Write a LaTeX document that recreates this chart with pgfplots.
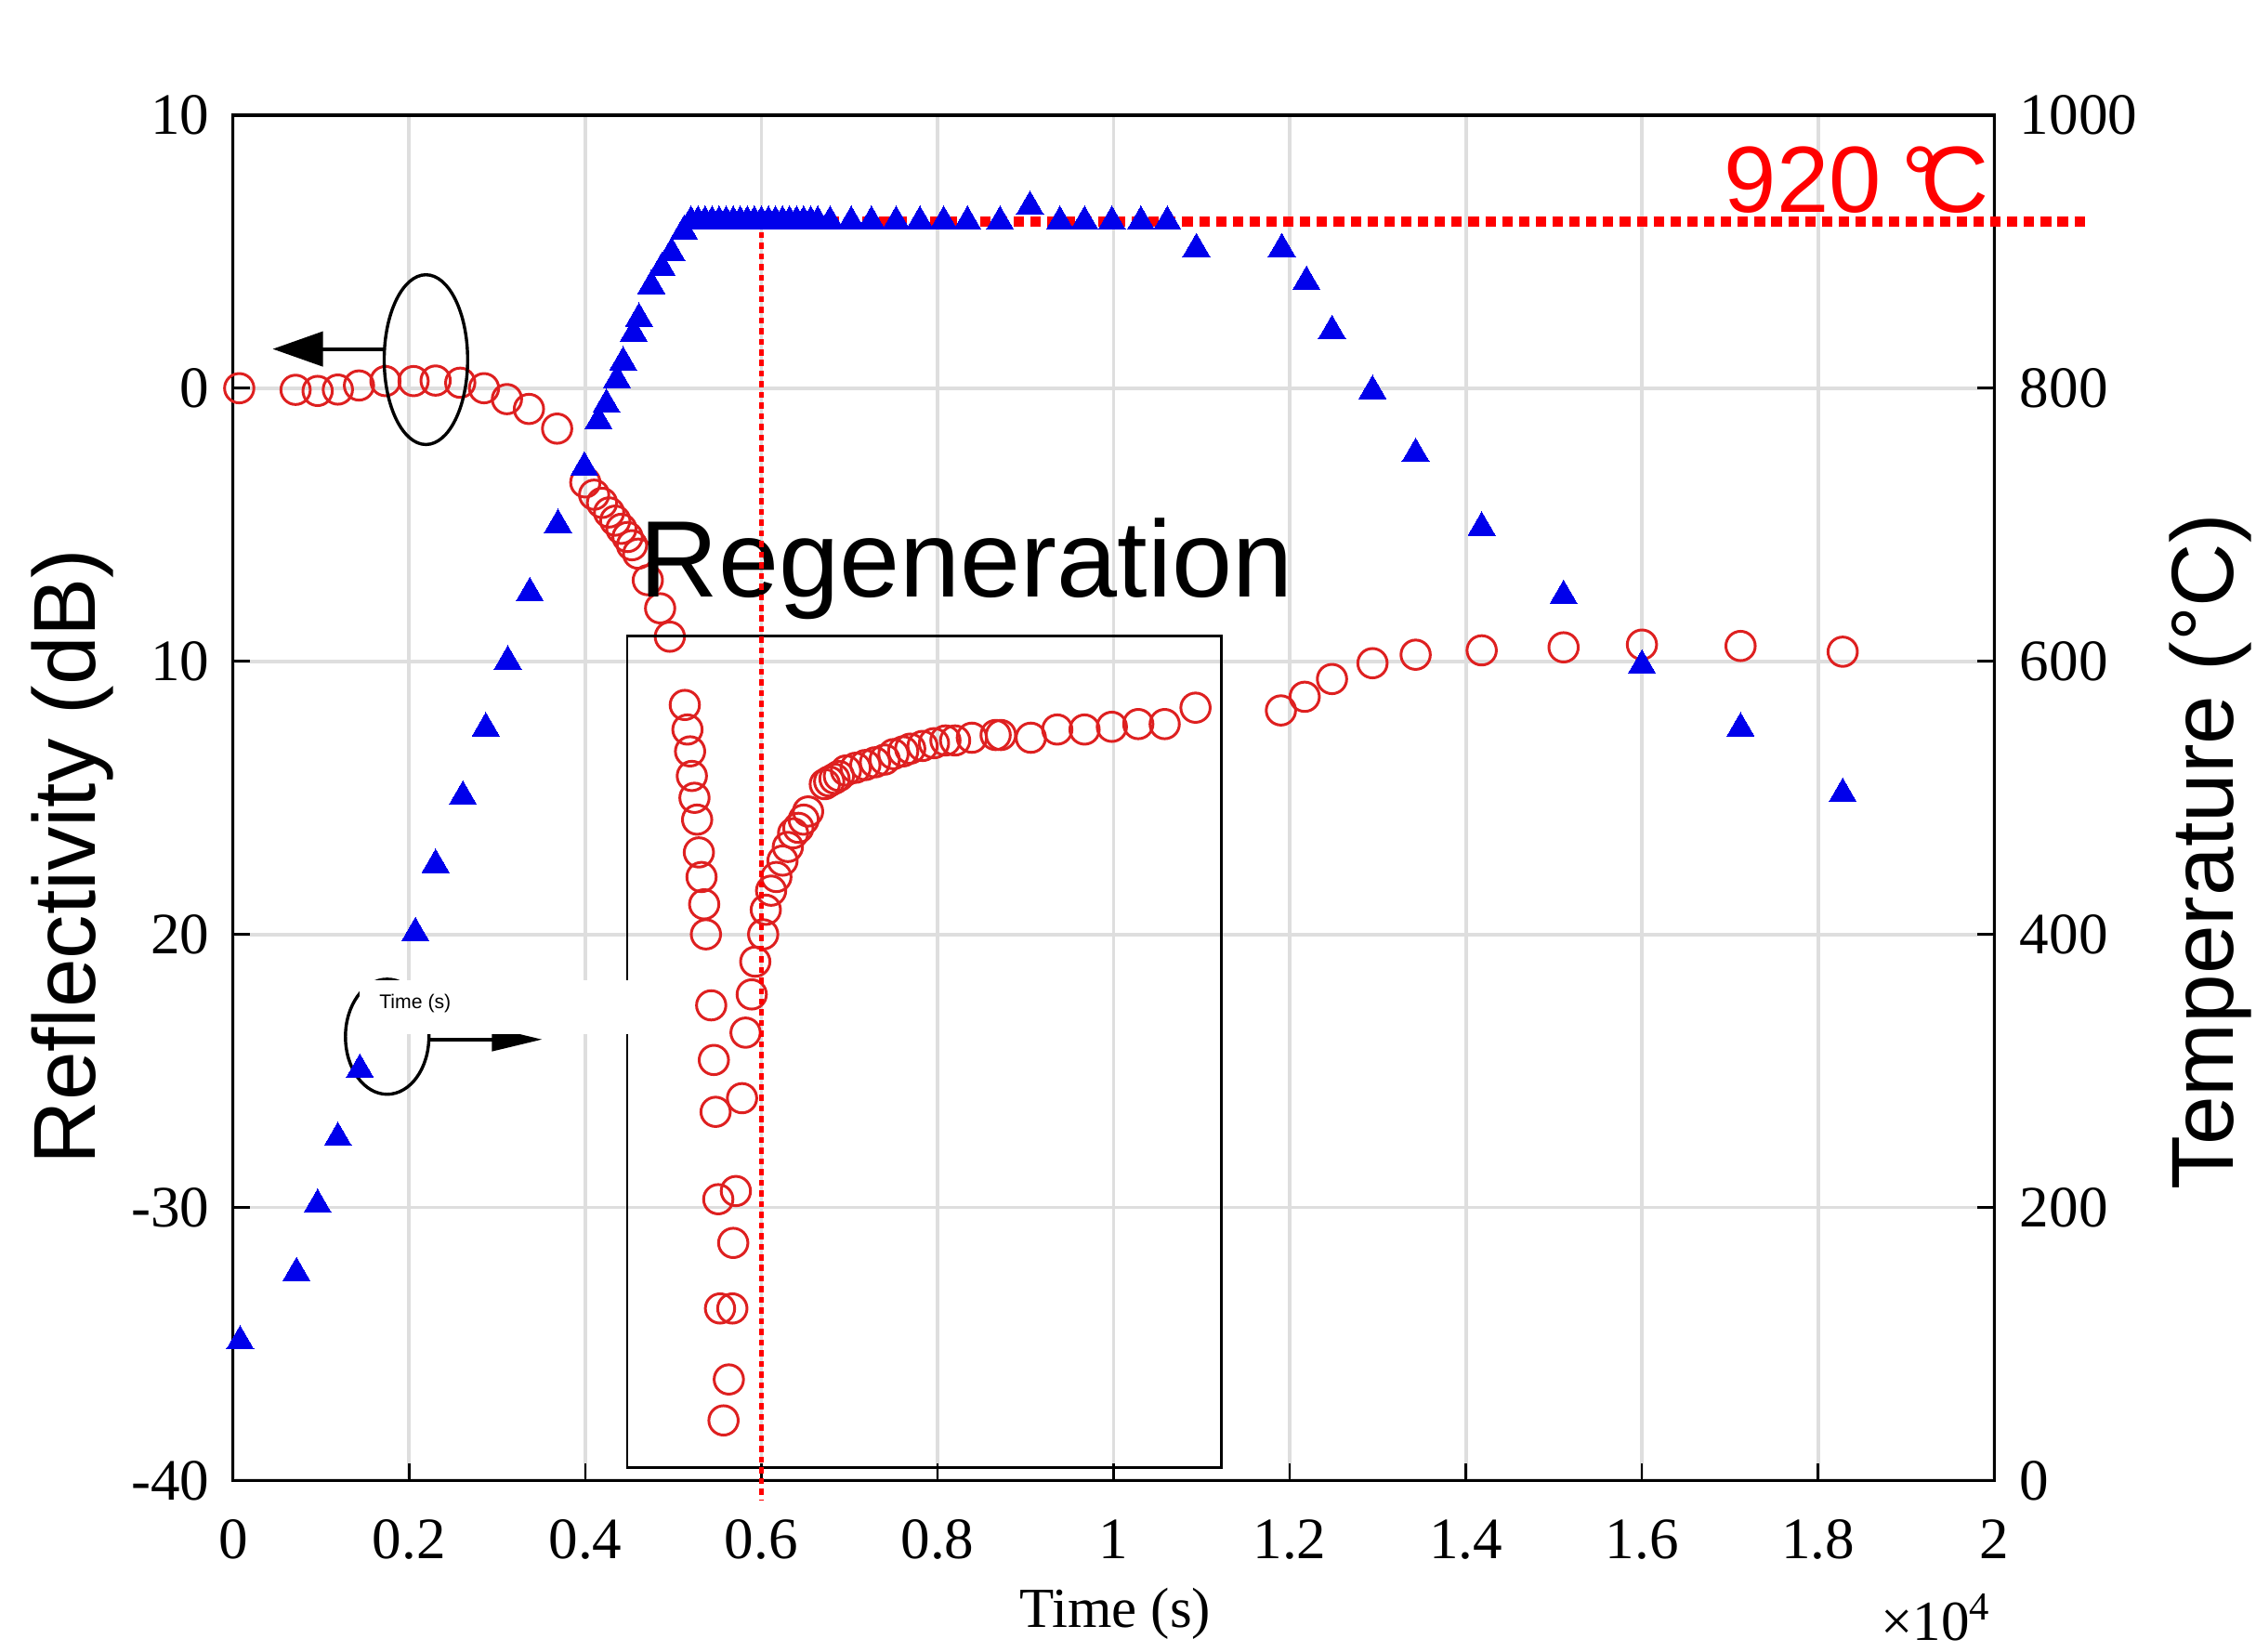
\documentclass[border=0pt]{standalone}
\usepackage{fontspec}
\setmainfont{Liberation Serif}
\newfontfamily\arial{Liberation Sans}
\usepackage{pgfplots}
\pgfplotsset{compat=1.18}
\usetikzlibrary{arrows.meta}

\definecolor{circred}{RGB}{222,32,32}
\definecolor{triblue}{RGB}{0,0,235}
\definecolor{gridgray}{RGB}{222,222,222}

\pgfplotsset{
  common/.style={
    scale only axis, width=122.4mm, height=94.9mm,
    at={(0,0)}, anchor=south west,
    xmin=0, xmax=2, clip=false,
    tick align=inside, major tick length=1.2mm,
    tick style={black, line width=0.5pt},
    ticklabel style={font=\fontsize{11.6}{13}\selectfont},
  },
}

\begin{document}
\begin{tikzpicture}
\useasboundingbox (-16.2mm,-11.9mm) rectangle (140.6mm,102.9mm);

% reflectivity, left axis
\begin{axis}[common,
  ymin=-40, ymax=10,
  xtick={0,0.2,0.4,0.6,0.8,1,1.2,1.4,1.6,1.8,2},
  xticklabels={0,0.2,0.4,0.6,0.8,1,1.2,1.4,1.6,1.8,2},
  ytick={-40,-30,-20,-10,0,10},
  yticklabels={-40,-30,20,10,0,10},
  xtick pos=bottom, ytick pos=left,
  xticklabel style={yshift=-1.5mm},
  yticklabel style={xshift=-0.4mm},
  grid=major, major grid style={gridgray, line width=0.25mm},
  axis line style={line width=0.6pt},
]
\addplot[only marks, mark=o, mark size=2.9pt,
  mark options={draw=circred, line width=0.55pt}] coordinates {
(0.007,0) (0.071,-0.06) (0.096,-0.1) (0.119,-0.05) (0.143,0.1) (0.173,0.26)
(0.205,0.26) (0.230,0.28) (0.258,0.2) (0.285,0) (0.311,-0.4) (0.336,-0.76)
(0.368,-1.48) (0.400,-3.45) (0.410,-3.9) (0.419,-4.2) (0.427,-4.55) (0.434,-4.85)
(0.441,-5.15) (0.448,-5.45) (0.453,-5.75) (0.460,-6.06) (0.471,-7.03) (0.485,-8.06)
(0.496,-9.1) (0.513,-11.6) (0.516,-12.5) (0.519,-13.3) (0.521,-14.2) (0.524,-15.0)
(0.527,-15.8) (0.529,-17.0) (0.532,-17.9) (0.535,-18.9) (0.537,-20.0) (0.543,-22.6)
(0.546,-24.6) (0.548,-26.5) (0.551,-29.7) (0.553,-33.7) (0.557,-37.8) (0.563,-36.3)
(0.567,-33.7) (0.568,-31.3) (0.571,-29.4) (0.578,-26.0) (0.582,-23.6) (0.589,-22.2)
(0.593,-21.0) (0.602,-20.0) (0.605,-19.1) (0.611,-18.4) (0.617,-17.9) (0.624,-17.3)
(0.630,-16.8) (0.636,-16.3) (0.642,-16.1) (0.648,-15.8) (0.653,-15.5) (0.672,-14.5)
(0.677,-14.4) (0.683,-14.3) (0.688,-14.2) (0.696,-14.0) (0.707,-13.9) (0.718,-13.8)
(0.729,-13.7) (0.740,-13.6) (0.750,-13.4) (0.761,-13.3) (0.769,-13.2) (0.783,-13.1)
(0.796,-13.0) (0.809,-12.9) (0.820,-12.9) (0.839,-12.8) (0.866,-12.7) (0.872,-12.7)
(0.906,-12.8) (0.936,-12.5) (0.967,-12.5) (0.998,-12.4) (1.028,-12.3) (1.058,-12.3)
(1.093,-11.7) (1.190,-11.8) (1.217,-11.3) (1.248,-10.65) (1.294,-10.07) (1.343,-9.76)
(1.418,-9.6) (1.511,-9.49) (1.600,-9.39) (1.712,-9.44) (1.828,-9.65)
};
\node[rotate=90, anchor=base, font=\fontsize{17.4}{20}\arial]
  at (rel axis cs:-0.0784,0.457) {Reflectivity (dB)};
\node[rotate=90, anchor=base, font=\fontsize{17.4}{20}\arial]
  at (rel axis cs:1.1356,0.4605) {Temperature (°C)};
\node[anchor=base, font=\fontsize{11.2}{13}\selectfont]
  at (rel axis cs:0.5008,-0.1075) {Time (s)};
\node[anchor=base east, inner sep=0pt, font=\fontsize{11.2}{13}\selectfont]
  at (rel axis cs:0.9992,-0.117) {×10\textsuperscript{4}};
\end{axis}

% temperature, right axis
\begin{axis}[common,
  ymin=0, ymax=1000,
  axis x line=none, axis y line*=right,
  ytick={0,200,400,600,800,1000},
  yticklabels={0,200,400,600,800,1000},
  yticklabel style={xshift=0.55mm},
  axis line style={line width=0.6pt},
]
\addplot[only marks, mark=triangle*, mark size=3.1pt,
  mark options={fill=triblue, draw=triblue, line width=0pt}] coordinates {
(0.008,102) (0.072,152) (0.096,202) (0.119,251) (0.144,301) (0.207,401)
(0.230,451) (0.261,501) (0.287,551) (0.312,600) (0.337,650) (0.369,700)
(0.399,742) (0.415,776) (0.424,788) (0.436,806) (0.443,819) (0.455,840)
(0.461,851) (0.475,875) (0.487,888) (0.498,899) (0.512,915)
(0.520,922) (0.528,922) (0.536,922) (0.544,922) (0.552,922) (0.560,922)
(0.568,922) (0.576,922) (0.584,922) (0.592,922) (0.600,922) (0.608,922)
(0.616,922) (0.624,922) (0.632,922) (0.640,922) (0.648,922) (0.656,922)
(0.664,922) (0.678,922) (0.702,922) (0.725,922) (0.753,922) (0.780,922)
(0.807,922) (0.834,922) (0.871,922) (0.905,933) (0.939,922) (0.967,922)
(0.998,922) (1.031,922) (1.061,922) (1.094,902) (1.191,902) (1.219,878)
(1.248,842) (1.294,798) (1.343,752) (1.418,698) (1.511,648) (1.600,597)
(1.712,551) (1.828,503)
};
% regeneration annotation
\node[anchor=base west, inner sep=0pt, font=\fontsize{21.5}{24}\arial]
  at (axis cs:0.461,647) {Regeneration};
\draw[black, line width=0.15mm] (axis cs:0.4477,618.6) rectangle (axis cs:1.1225,9.5);
% 920 C guide lines
\addplot[red, line width=0.36mm, dash pattern=on 0.42mm off 0.32mm]
  coordinates {(0.6,922) (0.6,-14)};
\addplot[red, line width=0.7mm, dash pattern=on 0.72mm off 0.45mm]
  coordinates {(0.6,922) (2.108,922)};
\node[anchor=base east, inner sep=0pt, text=red, font=\fontsize{18.6}{22}\arial]
  at (axis cs:1.995,929) {920\kern0.22em°\kern-0.2em C};
% axis pointers
\draw[line width=0.22mm] (axis cs:0.219,820.9) ellipse [x radius=2.9mm, y radius=5.9mm];
\draw[line width=0.25mm, -{Triangle[length=3.5mm,width=2.4mm]}]
  (axis cs:0.1716,828.7) -- (axis cs:0.045,828.7);
\draw[line width=0.22mm] (axis cs:0.175,325) ellipse [x radius=2.9mm, y radius=4.0mm];
\draw[line width=0.25mm, -{Triangle[length=3.5mm,width=1.6mm]}]
  (axis cs:0.223,323) -- (axis cs:0.351,323);
\fill[white] (axis cs:0.1438,366.7) rectangle (axis cs:0.4493,327.2);
\node[anchor=base west, inner sep=0pt, font=\fontsize{3.9}{4.5}\arial]
  at (axis cs:0.165,345.3) {Time (s)};
\end{axis}
\end{tikzpicture}
\end{document}
